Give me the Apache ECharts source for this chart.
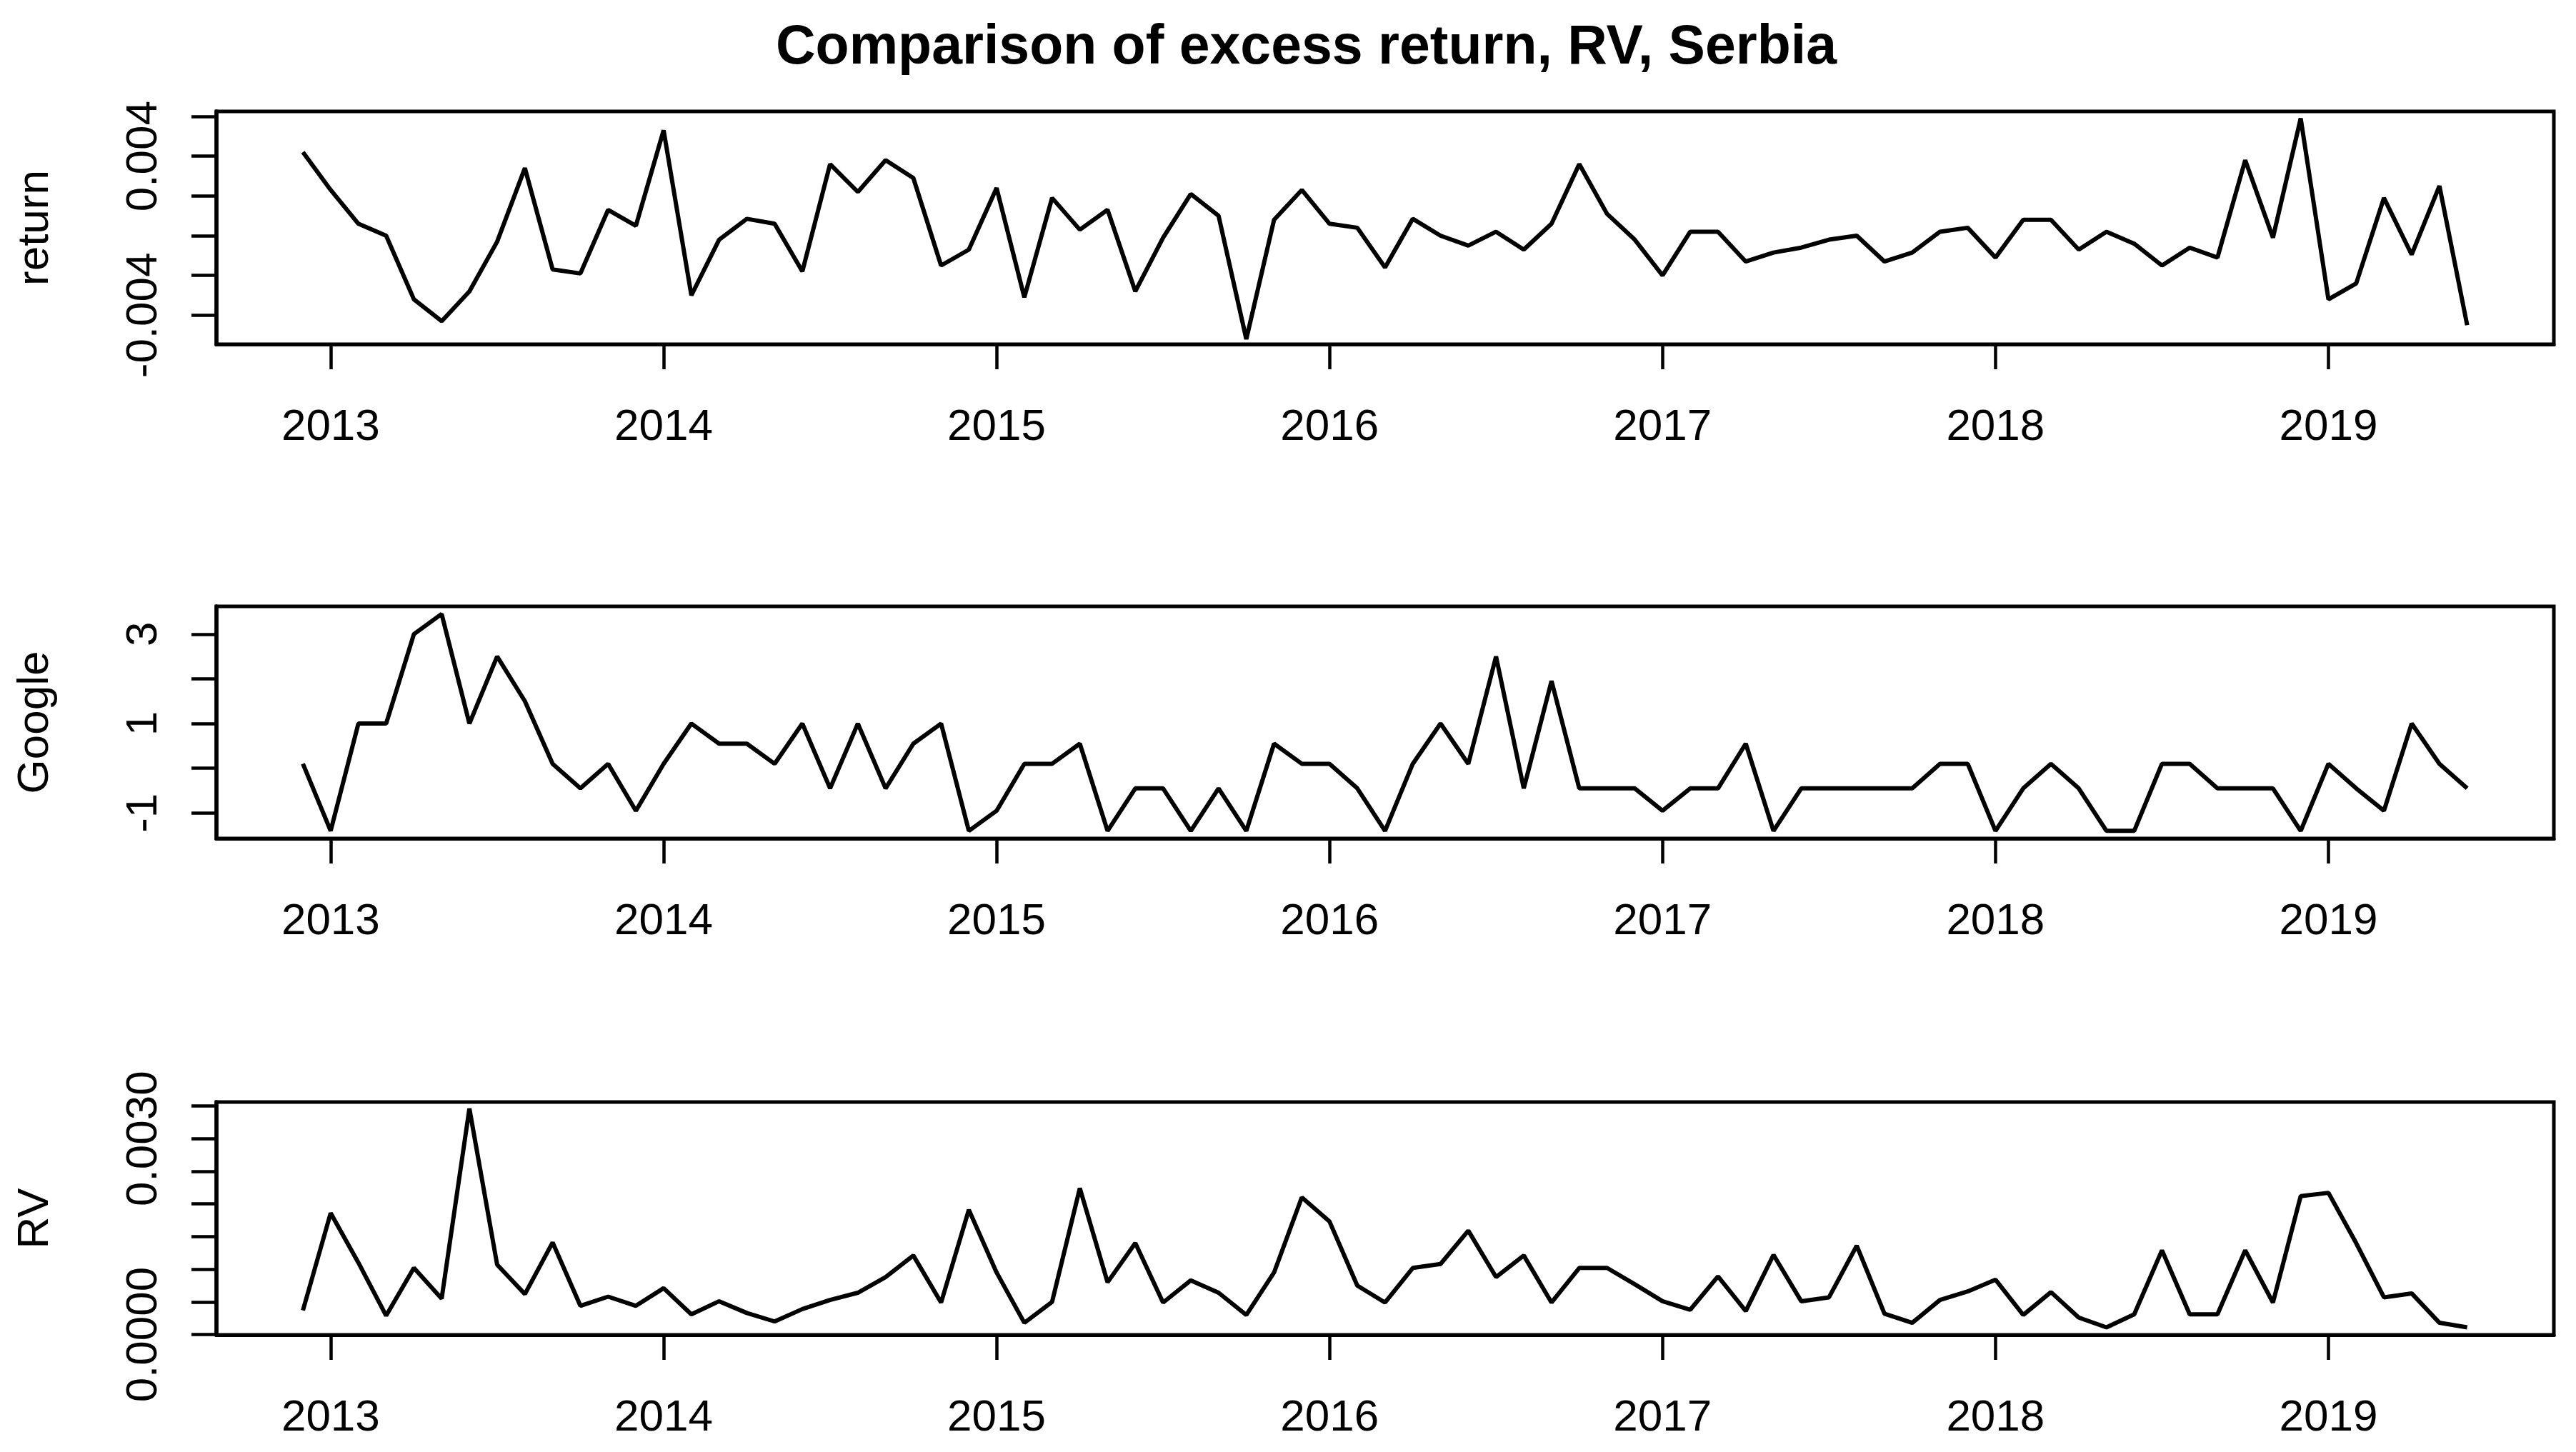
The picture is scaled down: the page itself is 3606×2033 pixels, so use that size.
<!DOCTYPE html>
<html>
<head>
<meta charset="utf-8">
<script src="https://cdn.jsdelivr.net/npm/echarts@6/dist/echarts.min.js"></script>
<style>
html,body{margin:0;padding:0;background:#fff;}
#chart{width:3606px;height:2033px;}
</style>
</head>
<body>
<div id="chart"></div>
<script>
// Monthly series, Dec 2012 .. Jun 2019
const startYear = 2012;
const startMonth = 12;
const yearTicks = [2013, 2014, 2015, 2016, 2017, 2018, 2019];

const excessReturn = [
  0.0042,
  0.0023, 0.0006, 0.0000, -0.0032, -0.0043, -0.0028, -0.0003, 0.0034, -0.0017, -0.0019, 0.0013, 0.0005,
  0.0053, -0.0030, -0.0002, 0.00085, 0.0006, -0.0018, 0.0036, 0.0022, 0.0038, 0.0029, -0.0015, -0.0007,
  0.0024, -0.0031, 0.0019, 0.0003, 0.0013, -0.0028, -0.0001, 0.0021, 0.0010, -0.0052, 0.0008, 0.0023,
  0.0006, 0.0004, -0.0016, 0.00085, 0.0000, -0.0005, 0.0002, -0.0007, 0.0006, 0.0036, 0.0011, -0.0002,
  -0.0020, 0.0002, 0.0002, -0.0013, -0.00085, -0.0006, -0.0002, 0.0000, -0.0013, -0.00085, 0.0002, 0.0004,
  -0.0011, 0.0008, 0.0008, -0.0007, 0.0002, -0.0004, -0.0015, -0.0006, -0.0011, 0.0038, -0.0001, 0.0059,
  -0.0032, -0.0024, 0.0019, -0.00095, 0.0025, -0.0045
];

const google = [
  0.1,
  -1.4, 1.0, 1.0, 3.0, 3.45, 1.0, 2.5, 1.5, 0.1, -0.45, 0.1, -0.95,
  0.1, 1.0, 0.55, 0.55, 0.1, 1.0, -0.45, 1.0, -0.45, 0.55, 1.0, -1.4,
  -0.95, 0.1, 0.1, 0.55, -1.4, -0.45, -0.45, -1.4, -0.45, -1.4, 0.55, 0.1,
  0.1, -0.45, -1.4, 0.1, 1.0, 0.1, 2.5, -0.45, 1.95, -0.45, -0.45, -0.45,
  -0.95, -0.45, -0.45, 0.55, -1.4, -0.45, -0.45, -0.45, -0.45, -0.45, 0.1, 0.1,
  -1.4, -0.45, 0.1, -0.45, -1.4, -1.4, 0.1, 0.1, -0.45, -0.45, -0.45, -1.4,
  0.1, -0.45, -0.95, 1.0, 0.1, -0.45
];

const rv = [
  0.00037,
  0.00186, 0.0011, 0.00029, 0.00102, 0.00055, 0.00346, 0.00107, 0.00062, 0.00141, 0.00044, 0.00058, 0.00044,
  0.00071, 0.00031, 0.00051, 0.00033, 0.00020, 0.00039, 0.00053, 0.00064, 0.00088, 0.00121, 0.00049, 0.00191,
  0.00095, 0.00018, 0.00050, 0.00224, 0.00080, 0.00140, 0.00049, 0.00083, 0.00064, 0.00030, 0.00095, 0.00210,
  0.00173, 0.00075, 0.00049, 0.00102, 0.00108, 0.00159, 0.00088, 0.00121, 0.00049, 0.00102, 0.00102, 0.00077,
  0.00051, 0.00038, 0.00089, 0.00036, 0.00122, 0.00051, 0.00057, 0.00136, 0.00032, 0.00018, 0.00053, 0.00066,
  0.00084, 0.00030, 0.00065, 0.00026, 0.00011, 0.00031, 0.00129, 0.00031, 0.00031, 0.00129, 0.00049, 0.00212,
  0.00217, 0.00140, 0.00057, 0.00063, 0.00018, 0.00011
];

const returnTicks = [-0.004, -0.002, 0, 0.002, 0.004, 0.006];
const returnLabels = [-0.004, 0.004];
const googleTicks = [-1, 0, 1, 2, 3];
const googleLabels = [-1, 1, 3];
const rvTicks = [0, 0.0005, 0.001, 0.0015, 0.002, 0.0025, 0.003, 0.0035];
const rvLabels = [0, 0.003];

function timeIndex(i) {
  return startYear + (startMonth - 1) / 12 + i / 12;
}
function toPairs(arr) {
  return arr.map((v, i) => [timeIndex(i), v]);
}

const FONT = "'Liberation Sans', Arial, sans-serif";
const BLACK = '#000';

const grids = [
  { left: 303, right: 31, top: 156, height: 326 },
  { left: 303, right: 31, top: 849, height: 325 },
  { left: 303, right: 31, top: 1543, height: 326 }
].map(g => Object.assign(g, { show: true, borderColor: BLACK, borderWidth: 5, backgroundColor: 'transparent' }));

function xAxisFor(idx) {
  return {
    type: 'value',
    gridIndex: idx,
    min: 2012.657,
    max: 2019.677,
    axisLine: { show: true, onZero: false, lineStyle: { color: BLACK, width: 5 } },
    axisTick: { show: true, length: 35, lineStyle: { color: BLACK, width: 4.5 }, customValues: yearTicks },
    axisLabel: { show: true, margin: 86, fontSize: 62, fontFamily: FONT, color: BLACK, customValues: yearTicks,
      formatter: v => String(Math.round(v)) },
    splitLine: { show: false }
  };
}

function yAxisFor(idx, name, min, max, ticks, labels, digits) {
  return {
    type: 'value',
    gridIndex: idx,
    min: min,
    max: max,
    name: name,
    nameLocation: 'middle',
    nameGap: 222,
    nameTextStyle: { fontSize: 62, fontFamily: FONT, color: BLACK },
    axisLine: { show: true, onZero: false, lineStyle: { color: BLACK, width: 5.5 } },
    axisTick: { show: true, length: 35, lineStyle: { color: BLACK, width: 4.5 }, customValues: ticks },
    axisLabel: { show: true, rotate: 90, margin: 70, fontSize: 62, fontFamily: FONT, color: BLACK,
      customValues: labels, formatter: v => digits == null ? String(v) : Number(v).toFixed(digits) },
    splitLine: { show: false }
  };
}

function lineSeries(idx, arr) {
  return {
    type: 'line',
    xAxisIndex: idx,
    yAxisIndex: idx,
    data: toPairs(arr),
    symbol: 'none',
    lineStyle: { color: BLACK, width: 6 },
    itemStyle: { color: BLACK },
    animation: false
  };
}

const chart = echarts.init(document.getElementById('chart'), null, { renderer: 'canvas' });
chart.setOption({
  backgroundColor: '#fff',
  animation: false,
  title: {
    text: 'Comparison of excess return, RV, Serbia',
    left: 1086,
    top: 29,
    padding: 0,
    textStyle: { fontSize: 77, fontWeight: 'bold', fontFamily: FONT, color: BLACK }
  },
  grid: grids,
  xAxis: [xAxisFor(0), xAxisFor(1), xAxisFor(2)],
  yAxis: [
    yAxisFor(0, 'return', -0.00546, 0.00625, returnTicks, returnLabels, 3),
    yAxisFor(1, 'Google', -1.57, 3.62, googleTicks, googleLabels, null),
    yAxisFor(2, 'RV', -0.000005, 0.00356, rvTicks, rvLabels, 4)
  ],
  series: [lineSeries(0, excessReturn), lineSeries(1, google), lineSeries(2, rv)]
});
</script>
</body>
</html>
